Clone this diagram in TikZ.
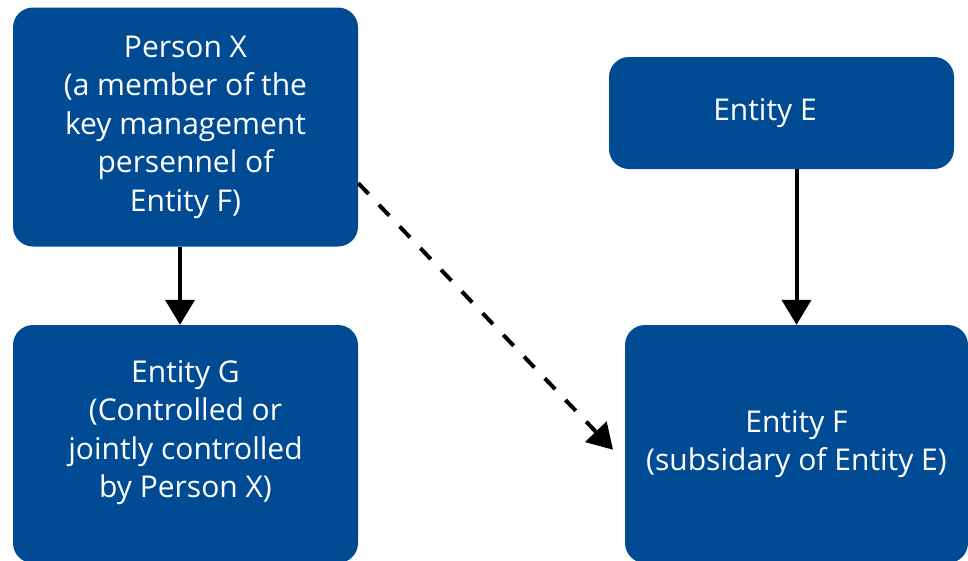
\documentclass[tikz,border=0pt]{standalone}
\usepackage{fontspec}
\setmainfont{Open Sans}
\usetikzlibrary{arrows.meta}
\definecolor{boxblue}{RGB}{0,75,147}
\tikzset{
  entitybox/.style={rectangle, rounded corners=20pt, fill=boxblue, text=white,
    align=center, inner sep=0pt,
    font=\fontsize{30}{38.5}\selectfont},
  link/.style={line width=4pt, -{Triangle[width=29pt,length=25pt]}},
  dashlink/.style={link, dash pattern=on 15pt off 15pt}
}
\begin{document}
\begin{tikzpicture}[x=1pt,y=-1pt]
  \useasboundingbox (0,0) rectangle (968,560);
  \node[entitybox, minimum width=345pt, minimum height=239pt] (px) at (185.5,127)
    {Person X\\(a member of the\\key management\\persennel of\\Entity F)};
  \node[entitybox, minimum width=345pt, minimum height=112pt] (ee) at (781.5,113)
    {Entity E\hspace*{33pt}};
  % the text of this box sits a little above its centre
  \node[entitybox, minimum width=345pt, minimum height=238pt] (eg) at (185.5,444)
    {Entity G\\(Controlled or\\jointly controlled\\by Person X)\\[-8pt]\mbox{}};
  \node[entitybox, minimum width=343pt, minimum height=238pt] (ef) at (796.5,444)
    {Entity F\\(subsidary of Entity E)};
  \draw[link] ([xshift=-5.5pt]px.south) -- ([xshift=-5.5pt]eg.north);
  \draw[link] (ee.south -| ef.north) -- (ef.north);
  \draw[dashlink, shorten >=17pt] (px.-18.7) -- (ef.186.8);
\end{tikzpicture}
\end{document}
